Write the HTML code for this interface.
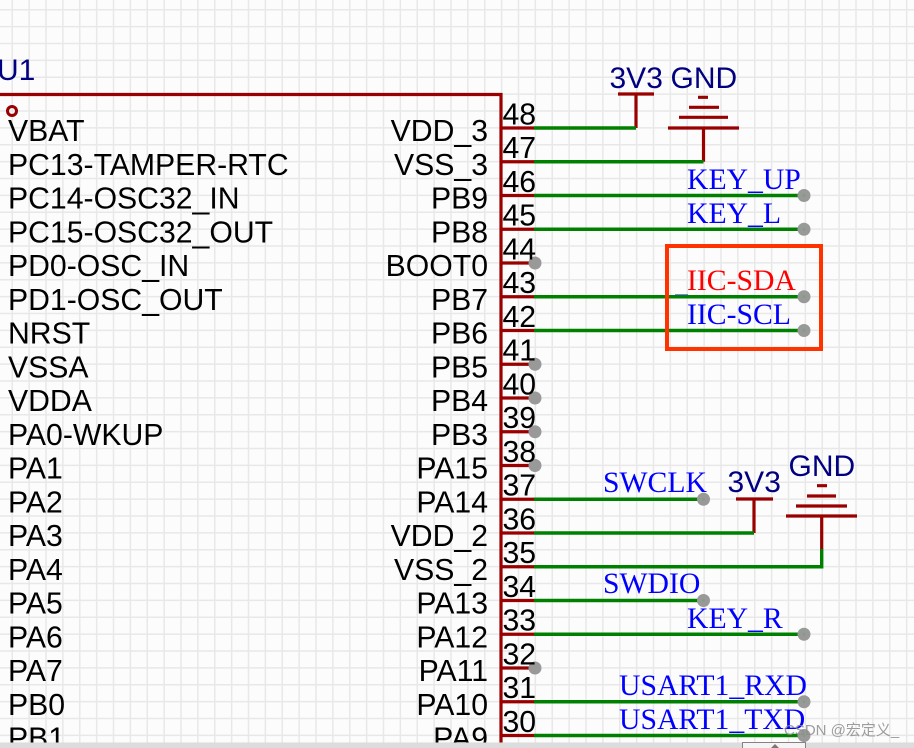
<!DOCTYPE html>
<html><head><meta charset="utf-8"><style>
html,body{margin:0;padding:0;background:#fff;width:914px;height:748px;overflow:hidden}
svg{display:block}
.s{font-family:"Liberation Sans",sans-serif;font-size:30.2px;fill:#000}
.e{text-anchor:end}
.p{font-family:"Liberation Sans",sans-serif;font-size:30px;fill:#000080}
.n{font-family:"Liberation Serif",serif;font-size:29.7px;fill:#0000ff}
.r{stroke:#990000;stroke-width:3.2;fill:none}
.g{stroke:#008000;stroke-width:3.4;fill:none}
.t{fill:#999}
.d{fill:#7f9f7f}
</style></head><body>
<svg width="914" height="748" viewBox="0 0 914 748" xmlns="http://www.w3.org/2000/svg">
<defs><pattern id="gr" x="11.5" y="9" width="16.875" height="16.875" patternUnits="userSpaceOnUse">
<path d="M0.75 0V16.875M0 0.75H16.875" stroke="#e8e8e8" stroke-width="1.5" fill="none"/></pattern></defs>
<rect width="914" height="748" fill="#fcfcfc"/>
<rect width="914" height="748" fill="url(#gr)"/>

<g class="n">
<text class="n" x="687" y="189">KEY_UP</text>
<text class="n" x="687" y="223">KEY_L</text>
<text class="n" x="687" y="290" style="fill:#ff0000">IIC-SDA</text>
<text class="n" x="687" y="324">IIC-SCL</text>
<text class="n" x="603" y="492">SWCLK</text>
<text class="n" x="603" y="593">SWDIO</text>
<text class="n" x="687" y="628">KEY_R</text>
<text class="n" x="619" y="695">USART1_RXD</text>
<text class="n" x="619" y="729">USART1_TXD</text>
</g>
<path d="M675 296H688" stroke="#0000ff" stroke-width="3"/>

<path class="r" d="M0 94.5H501V748"/>
<circle cx="12" cy="111" r="4.5" fill="none" stroke="#990000" stroke-width="3"/>
<path class="r" d="M501 128H534M501 161.75H534M501 195.5H534M501 229.25H534M501 263H534M501 296.75H534M501 330.5H534M501 364.25H534M501 398H534M501 431.75H534M501 465.5H534M501 499.25H534M501 533H534M501 566.75H534M501 600.5H534M501 634.25H534M501 668H534M501 701.75H534M501 735.5H534"/>

<path class="r" d="M618 94H654M636 94V128"/>
<path class="r" d="M668 128H739M679 117.3H728M689 107.3H719M698 97.3H708M703.5 128V161.75"/>
<path class="r" d="M736 499H773M754 499V533"/>
<path class="r" d="M786 516H857M796 506H847M807 496H836M817 485.7H827M821.7 516V549"/>

<path class="g" d="M534 128H636M534 161.75H703.5M534 195.5H804M534 229.25H804M534 296.75H804M534 330.5H804M534 499.25H703M534 533H754M534 566.75H821.7V549M534 600.5H703M534 634.25H804M534 701.75H804M534 735.5H804"/>
<rect x="667" y="246" width="154" height="103" fill="none" stroke="#ff3300" stroke-width="4"/>

<g>
<circle class="t" cx="804" cy="195.5" r="6.5"/><circle class="d" cx="804" cy="195.5" r="1.5"/>
<circle class="t" cx="804" cy="229.25" r="6.5"/><circle class="d" cx="804" cy="229.25" r="1.5"/>
<circle class="t" cx="804" cy="296.75" r="6.5"/><circle class="d" cx="804" cy="296.75" r="1.5"/>
<circle class="t" cx="804" cy="330.5" r="6.5"/><circle class="d" cx="804" cy="330.5" r="1.5"/>
<circle class="t" cx="703.5" cy="499.25" r="6.5"/><circle class="d" cx="703.5" cy="499.25" r="1.5"/>
<circle class="t" cx="703.5" cy="600.5" r="6.5"/><circle class="d" cx="703.5" cy="600.5" r="1.5"/>
<circle class="t" cx="804" cy="634.25" r="6.5"/><circle class="d" cx="804" cy="634.25" r="1.5"/>
<circle class="t" cx="804" cy="701.75" r="6.5"/><circle class="d" cx="804" cy="701.75" r="1.5"/>
<circle class="t" cx="804" cy="735.5" r="6.5"/><circle class="d" cx="804" cy="735.5" r="1.5"/>
<circle class="t" cx="535" cy="263" r="6.5"/><circle class="t" cx="535" cy="364.25" r="6.5"/>
<circle class="t" cx="535" cy="398" r="6.5"/><circle class="t" cx="535" cy="431.75" r="6.5"/>
<circle class="t" cx="535" cy="465.5" r="6.5"/><circle class="t" cx="535" cy="668" r="6.5"/>
</g>

<text class="p" x="-3" y="80">U1</text>
<text class="p" x="609.5" y="88">3V3</text>
<text class="p" x="670.5" y="88">GND</text>
<text class="p" x="727.5" y="492">3V3</text>
<text class="p" x="788.5" y="476">GND</text>

<text class="s" x="8" y="141">VBAT</text>
<text class="s" x="8" y="174.75">PC13-TAMPER-RTC</text>
<text class="s" x="8" y="208.5">PC14-OSC32_IN</text>
<text class="s" x="8" y="242.25">PC15-OSC32_OUT</text>
<text class="s" x="8" y="276">PD0-OSC_IN</text>
<text class="s" x="8" y="309.75">PD1-OSC_OUT</text>
<text class="s" x="8" y="343.5">NRST</text>
<text class="s" x="8" y="377.25">VSSA</text>
<text class="s" x="8" y="411">VDDA</text>
<text class="s" x="8" y="444.75">PA0-WKUP</text>
<text class="s" x="8" y="478.5">PA1</text>
<text class="s" x="8" y="512.25">PA2</text>
<text class="s" x="8" y="546">PA3</text>
<text class="s" x="8" y="579.75">PA4</text>
<text class="s" x="8" y="613.5">PA5</text>
<text class="s" x="8" y="647.25">PA6</text>
<text class="s" x="8" y="681">PA7</text>
<text class="s" x="8" y="714.75">PB0</text>
<text class="s" x="8" y="748.5">PB1</text>

<text class="s e" x="488" y="141">VDD_3</text>
<text class="s e" x="488" y="174.75">VSS_3</text>
<text class="s e" x="488" y="208.5">PB9</text>
<text class="s e" x="488" y="242.25">PB8</text>
<text class="s e" x="488" y="276">BOOT0</text>
<text class="s e" x="488" y="309.75">PB7</text>
<text class="s e" x="488" y="343.5">PB6</text>
<text class="s e" x="488" y="377.25">PB5</text>
<text class="s e" x="488" y="411">PB4</text>
<text class="s e" x="488" y="444.75">PB3</text>
<text class="s e" x="488" y="478.5">PA15</text>
<text class="s e" x="488" y="512.25">PA14</text>
<text class="s e" x="488" y="546">VDD_2</text>
<text class="s e" x="488" y="579.75">VSS_2</text>
<text class="s e" x="488" y="613.5">PA13</text>
<text class="s e" x="488" y="647.25">PA12</text>
<text class="s e" x="488" y="681">PA11</text>
<text class="s e" x="488" y="714.75">PA10</text>
<text class="s e" x="488" y="748.5">PA9</text>

<text class="s" x="502.5" y="124.3">48</text>
<text class="s" x="502.5" y="158">47</text>
<text class="s" x="502.5" y="191.8">46</text>
<text class="s" x="502.5" y="225.5">45</text>
<text class="s" x="502.5" y="259.3">44</text>
<text class="s" x="502.5" y="293">43</text>
<text class="s" x="502.5" y="326.8">42</text>
<text class="s" x="502.5" y="360.5">41</text>
<text class="s" x="502.5" y="394.3">40</text>
<text class="s" x="502.5" y="428">39</text>
<text class="s" x="502.5" y="461.8">38</text>
<text class="s" x="502.5" y="495.5">37</text>
<text class="s" x="502.5" y="529.3">36</text>
<text class="s" x="502.5" y="563">35</text>
<text class="s" x="502.5" y="596.8">34</text>
<text class="s" x="502.5" y="630.5">33</text>
<text class="s" x="502.5" y="664.3">32</text>
<text class="s" x="502.5" y="698">31</text>
<text class="s" x="502.5" y="731.8">30</text>

<text x="784" y="735" style="font-family:'Liberation Sans','Noto Sans CJK SC',sans-serif;font-size:15px;fill:#8c8c8c;fill-opacity:.85">CSDN @宏定义_</text>

<rect x="0" y="742.5" width="914" height="5.5" fill="#dcdcdc"/>
<rect x="742.5" y="742.5" width="63" height="6" fill="#f4f4f4" stroke="#8a8080" stroke-width="1"/>
<path d="M771 748L775 744L779 748Z" fill="#8a7070"/>
</svg>
</body></html>
